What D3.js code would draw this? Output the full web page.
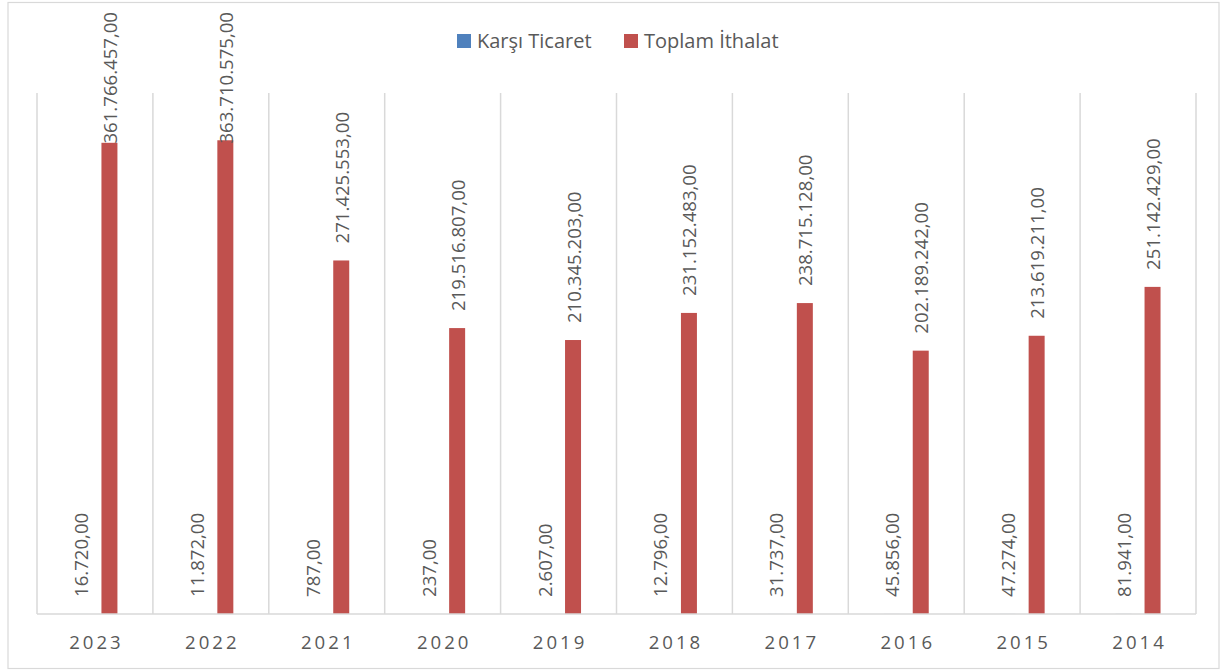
<!DOCTYPE html>
<html>
<head>
<meta charset="utf-8">
<script src="https://cdn.jsdelivr.net/npm/d3@7"></script>
<style>
    body { margin: 0; background: #fff; }
    svg text { font-family: "Open Sans", "Liberation Sans", sans-serif; fill: #595959; }
</style>
</head>
<body>
<div id="chart"></div>
<script>
const years = ["2023", "2022", "2021", "2020", "2019", "2018", "2017", "2016", "2015", "2014"];
const seriesNames = ["Karşı Ticaret", "Toplam İthalat"];
const karsiTicaret = [16720, 11872, 787, 237, 2607, 12796, 31737, 45856, 47274, 81941];
const toplamIthalat = [361766457, 363710575, 271425553, 219516807, 210345203, 231152483, 238715128, 202189242, 213619211, 251142429];
const colors = ["#4F81BD", "#C0504D"];

const width = 1223, height = 671;
const margin = { top: 93, right: 27, bottom: 57, left: 37 };

const tr = d3.formatLocale({ decimal: ",", thousands: ".", grouping: [3], currency: ["", ""] });
const fmt = tr.format(",.2f");

const rows = years.map((y, i) => ({ year: y, values: [karsiTicaret[i], toplamIthalat[i]] }));

const svg = d3.select("#chart")
    .append("svg")
    .attr("width", width)
    .attr("height", height);

// outer frame
svg.append("rect")
    .attr("x", 8).attr("y", 2.5)
    .attr("width", 1211).attr("height", 666)
    .attr("fill", "none")
    .attr("stroke", "#D9D9D9")
    .attr("stroke-width", 1.2);

const x0 = d3.scaleBand()
    .domain(years)
    .range([margin.left, width - margin.right]);

// two bars, width 16, centres ~29px apart
const x1 = d3.scaleBand()
    .domain([0, 1])
    .range([0, x0.bandwidth()])
    .paddingInner(0.448)
    .paddingOuter(1.224);

const y = d3.scaleLinear()
    .domain([0, 400000000])
    .range([height - margin.bottom, margin.top]);

const base = y(0);

// vertical category separators
svg.append("g")
    .selectAll("line")
    .data(years.concat(["end"]))
    .join("line")
    .attr("x1", (d, i) => i < years.length ? x0(d) : x0.range()[1])
    .attr("x2", (d, i) => i < years.length ? x0(d) : x0.range()[1])
    .attr("y1", margin.top)
    .attr("y2", base)
    .attr("stroke", "#D9D9D9")
    .attr("stroke-width", 1.5);

// bars
const groups = svg.append("g")
    .selectAll("g")
    .data(rows)
    .join("g")
    .attr("transform", d => `translate(${x0(d.year)},0)`);

groups.selectAll("rect")
    .data(d => d.values)
    .join("rect")
    .attr("x", (d, i) => x1(i))
    .attr("width", x1.bandwidth())
    .attr("y", d => y(d))
    .attr("height", d => base - y(d))
    .attr("fill", (d, i) => colors[i]);

// data labels, rotated
groups.selectAll("text")
    .data(d => d.values)
    .join("text")
    .text(d => fmt(d))
    .style("font-size", "18.6px")
    .attr("text-anchor", "start")
    .attr("dominant-baseline", "central")
    .each(function (d, i) {
        const len = this.getComputedTextLength();
        let start = y(d) - 17;
        if (start - len < 12) start = 12 + len;
        const cx = x1(i) + x1.bandwidth() / 2;
        d3.select(this).attr("transform", `translate(${cx},${start}) rotate(-90)`);
    });

// x axis baseline
svg.append("line")
    .attr("x1", margin.left).attr("x2", width - margin.right)
    .attr("y1", base).attr("y2", base)
    .attr("stroke", "#D9D9D9")
    .attr("stroke-width", 1.5);

// year labels
svg.append("g")
    .selectAll("text")
    .data(years)
    .join("text")
    .attr("x", d => x0(d) + x0.bandwidth() / 2 + 1.5)
    .attr("y", 649)
    .attr("text-anchor", "middle")
    .style("font-size", "18.6px")
    .style("letter-spacing", "3px")
    .text(d => d);

// legend
const legend = svg.append("g");
const legendX = [457, 624];
seriesNames.forEach((name, i) => {
    legend.append("rect")
        .attr("x", legendX[i]).attr("y", 34)
        .attr("width", 14).attr("height", 14)
        .attr("fill", colors[i]);
    legend.append("text")
        .attr("x", legendX[i] + 20)
        .attr("y", 48)
        .style("font-size", "20px")
        .text(name);
});
</script>
</body>
</html>
